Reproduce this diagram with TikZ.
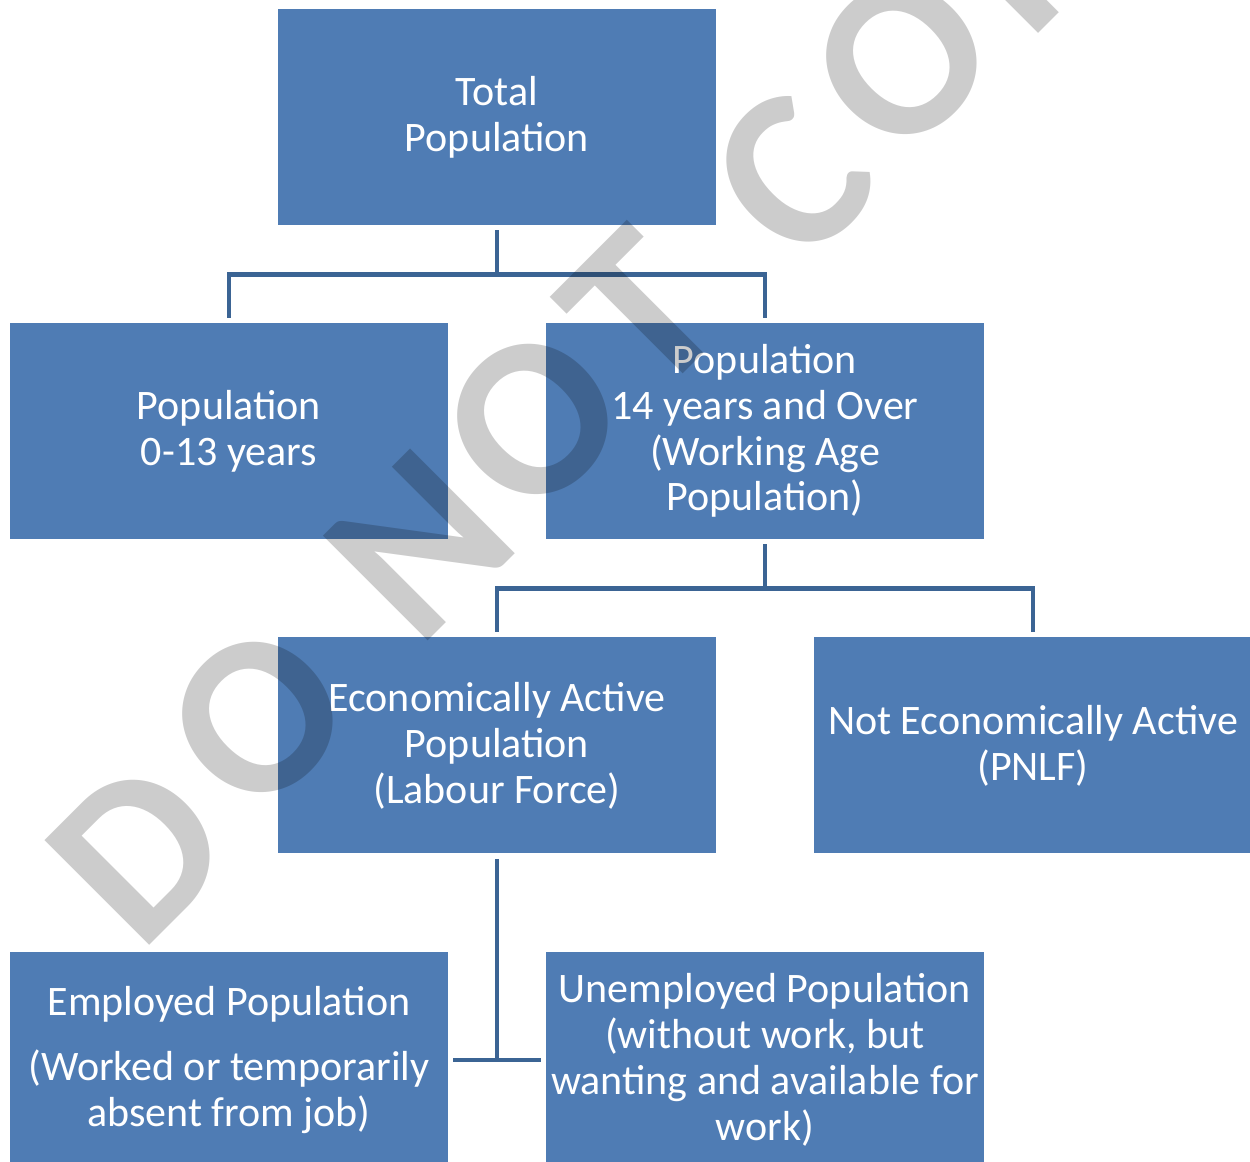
\documentclass[tikz,border=0pt]{standalone}
\usepackage{fontspec}
\setmainfont{Carlito}

\definecolor{boxblue}{HTML}{4F7CB4}
\definecolor{lineblue}{HTML}{3B6494}

\tikzset{
    popbox/.style={fill=boxblue, text=white, minimum width=8.76cm, minimum height=4.32cm,
        inner sep=0pt, align=center, font=\fontsize{23.9}{26.1}\selectfont},
    link/.style={draw=lineblue, line width=2.8pt, shorten <=0.1cm, shorten >=0.1cm},
    stamp/.style={rotate=45, text=black, text opacity=0.2, inner sep=0pt,
        font=\fontsize{130}{130}\selectfont\bfseries}
}

\begin{document}
\begin{tikzpicture}
        \useasboundingbox (0, 0) rectangle (25, 23.24);

        \node[popbox] (total) at (9.94, 20.90) {Total\\Population};
        \node[popbox] (young) at (4.58, 14.62) {Population\\0-13 years};
        \node[popbox] (working) at (15.30, 14.62) {Population\\14 years and Over\\(Working Age\\Population)};
        \node[popbox] (active) at (9.94, 8.33) {Economically Active\\Population\\(Labour Force)};
        \node[popbox] (inactive) at (20.66, 8.33) {Not Economically Active\\(PNLF)};
        \node[popbox] (employed) at (4.58, 2.04) {Employed Population\\[0.4cm](Worked or temporarily\\absent from job)};
        \node[popbox] (unemployed) at (15.30, 2.04) {Unemployed Population\\(without work, but\\wanting and available for\\work)};

        \draw[link] (total.south) -- ++(0, -0.98) -| (young.north);
        \draw[link] (total.south) -- ++(0, -0.98) -| (working.north);
        \draw[link] (working.south) -- ++(0, -0.98) -| (active.north);
        \draw[link] (working.south) -- ++(0, -0.98) -| (inactive.north);
        \draw[link, shorten >=0pt] (active.south) -- (active.south |- employed.east);
        \draw[link] (employed.east) -- (unemployed.west);

        %stamp
        \foreach \ch/\x/\y [count=\i] in {D/2.78/6.22, O/5.16/8.90, N/8.38/12.34, O/10.66/14.86,
                T/12.82/17.02, C/15.84/19.72, O/18.04/22.06, P/20.40/24.30, Y/22.45/26.34}
            \node[stamp] (stamp\i) at (\x, \y) {\ch};

    \end{tikzpicture}
\end{document}
